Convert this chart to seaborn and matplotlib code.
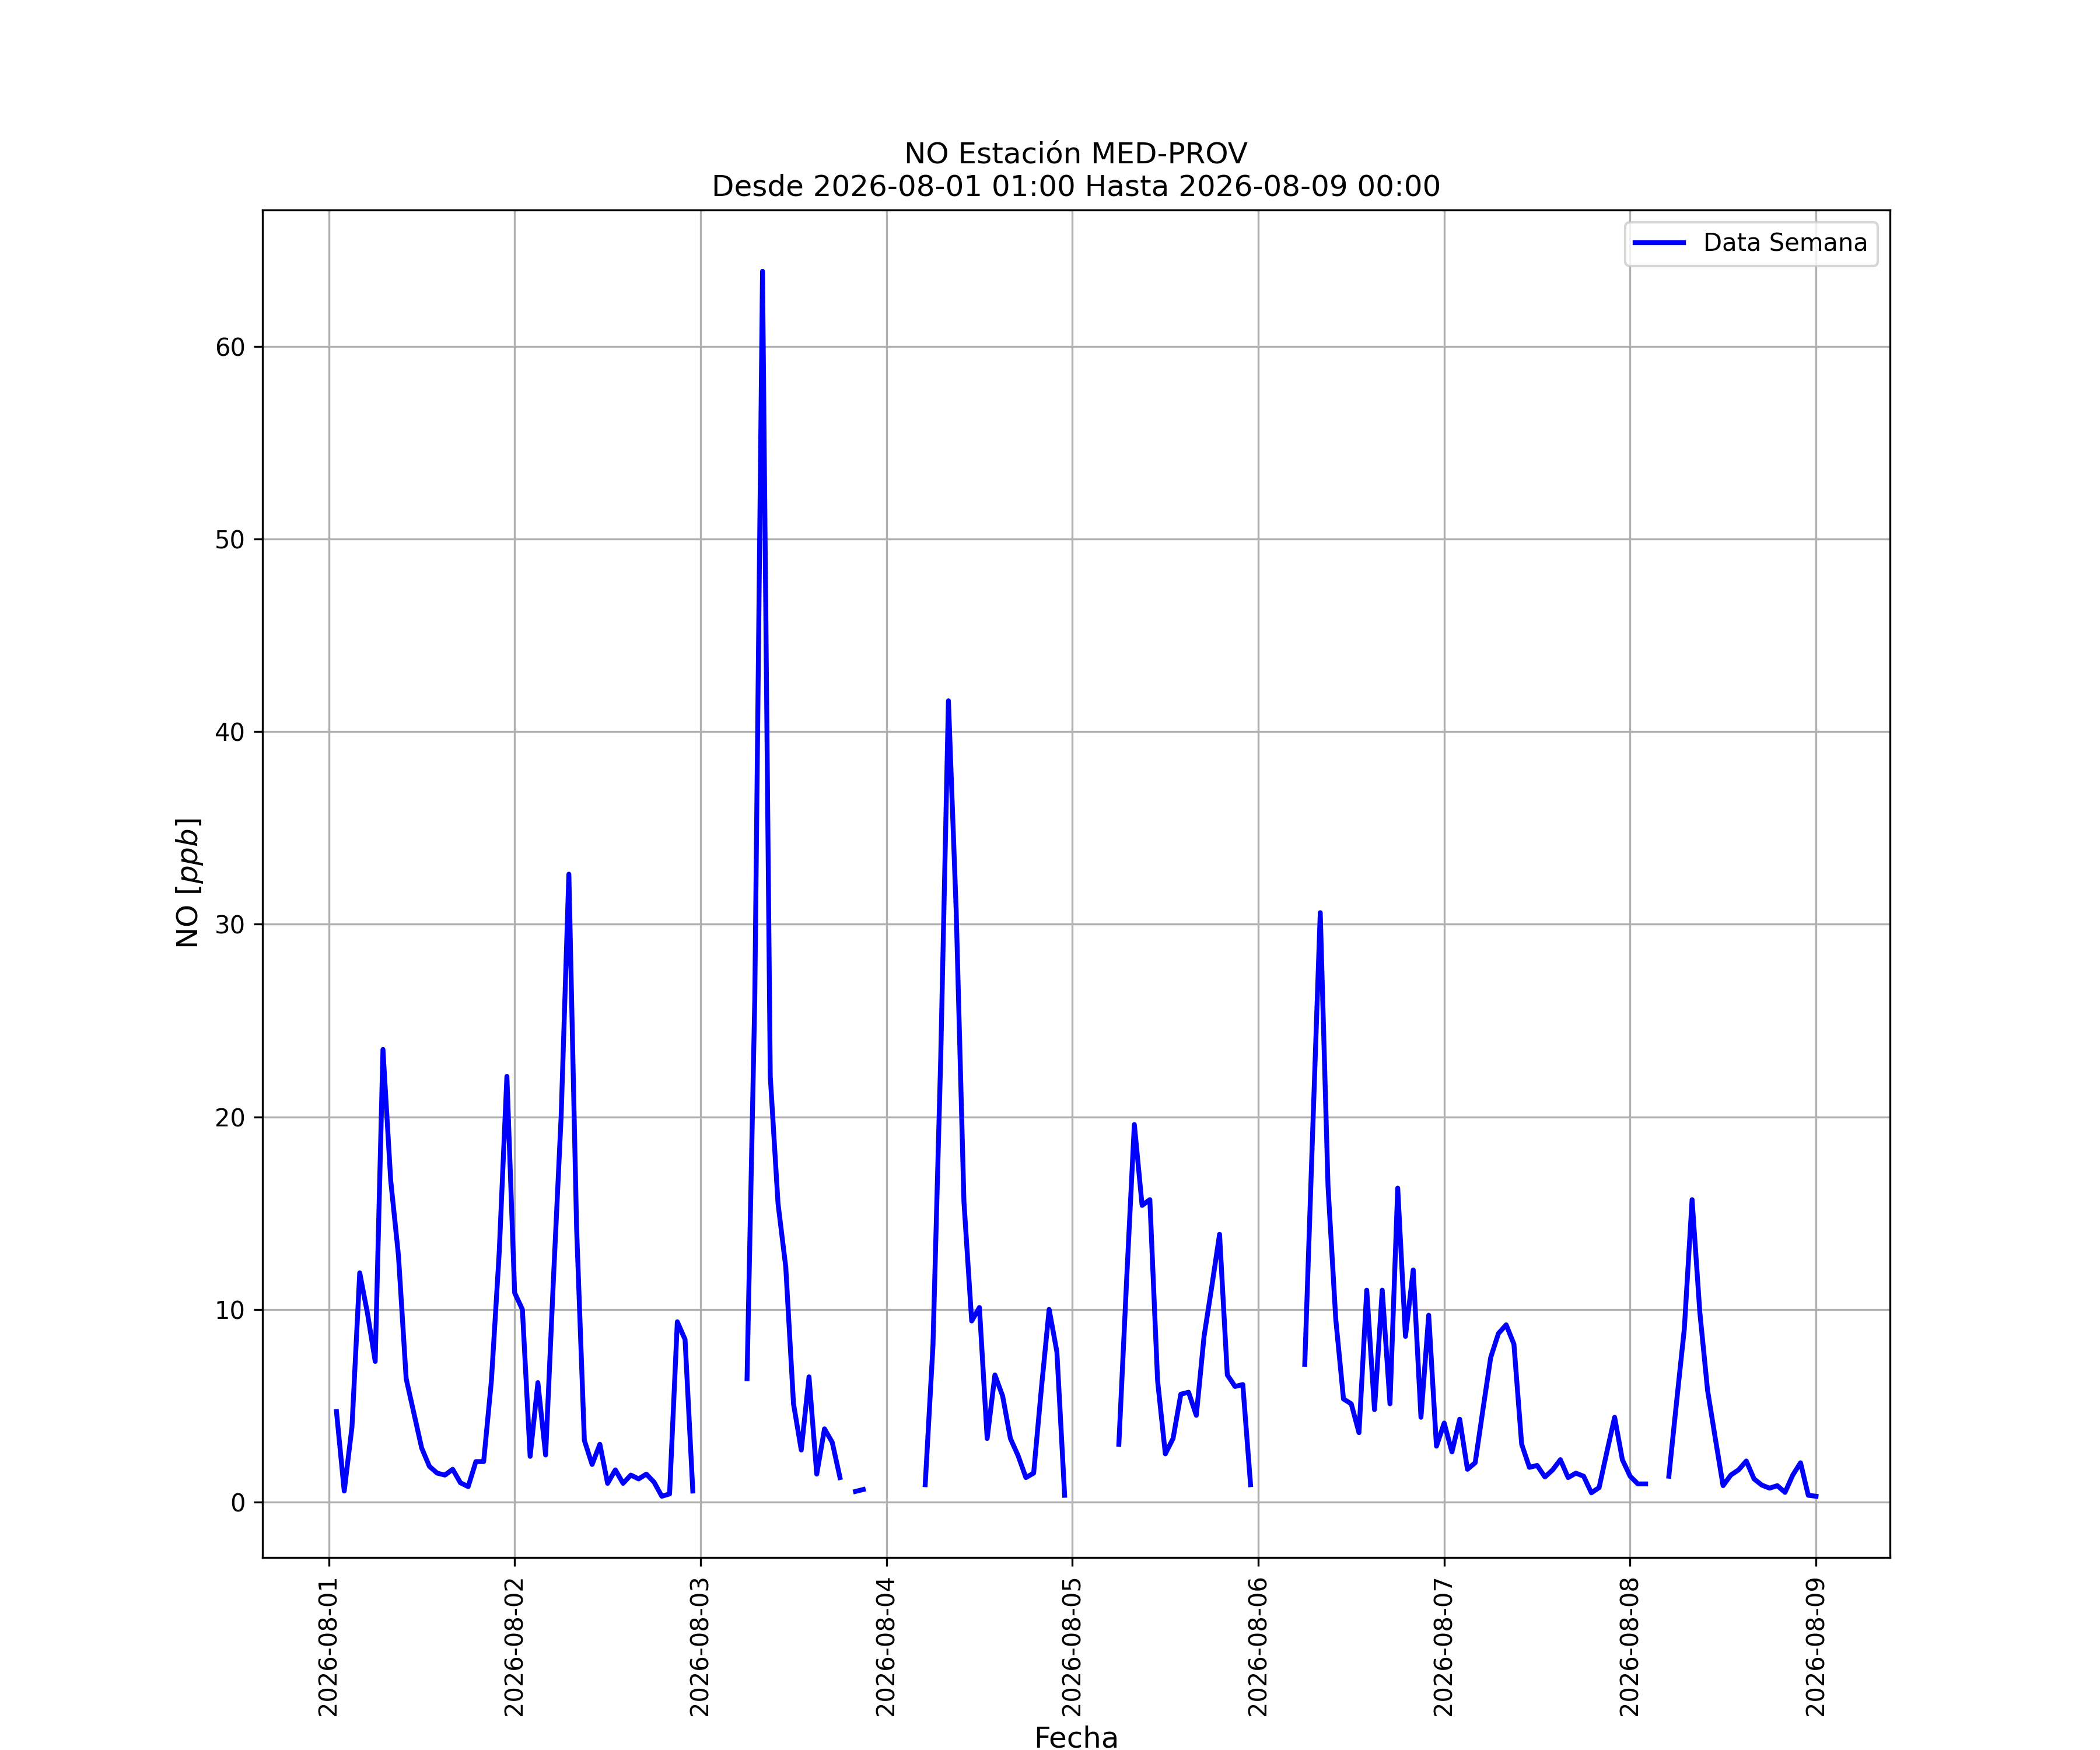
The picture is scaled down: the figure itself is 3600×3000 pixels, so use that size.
import matplotlib
matplotlib.use("Agg")
import matplotlib.pyplot as plt
import matplotlib.dates as mdates
import seaborn as sns
import pandas as pd
import numpy as np

nan = np.nan

# Valores horarios de NO [ppb] (NaN = sin dato)
dia_01 = [4.7, 0.57, 3.9, 11.9, 9.8, 7.3, 23.5, 16.7, 12.8, 6.4, 4.6, 2.8,
          1.85, 1.5, 1.4, 1.7, 1.0, 0.8, 2.1, 2.1, 6.3, 12.9, 22.1]  # 01:00 - 23:00
dia_02 = [10.86, 10.0, 2.37, 6.2, 2.44, 11.5, 20.0, 32.6, 14.2, 3.2, 1.95, 3.0,
          0.97, 1.67, 0.97, 1.4, 1.2, 1.45, 1.03, 0.3, 0.42, 9.36, 8.44, 0.57]
dia_03 = [nan, nan, nan, nan, nan, nan, 6.4, 26.1, 63.9, 22.1, 15.5, 12.2,
          5.1, 2.7, 6.5, 1.45, 3.8, 3.1, 1.27, nan, 0.55, 0.65, nan, nan]
dia_04 = [nan, nan, nan, nan, nan, 0.9, 8.1, 23.0, 41.6, 30.7, 15.6, 9.4,
          10.1, 3.3, 6.6, 5.5, 3.3, 2.4, 1.27, 1.5, 5.9, 10.0, 7.8, 0.35]
dia_05 = [nan, nan, nan, nan, nan, nan, 3.0, 11.5, 19.6, 15.4, 15.7, 6.3,
          2.5, 3.3, 5.6, 5.7, 4.5, 8.6, 11.2, 13.9, 6.6, 6.0, 6.1, 0.9]
dia_06 = [nan, nan, nan, nan, nan, nan, 7.15, 19.0, 30.6, 16.4, 9.5, 5.35,
          5.1, 3.6, 11.0, 4.8, 11.0, 5.1, 16.3, 8.6, 12.05, 4.4, 9.7, 2.9]
dia_07 = [4.1, 2.6, 4.3, 1.7, 2.04, 4.8, 7.5, 8.75, 9.2, 8.2, 3.0, 1.8,
          1.9, 1.3, 1.67, 2.2, 1.27, 1.5, 1.34, 0.48, 0.75, 2.6, 4.4, 2.2]
dia_08 = [1.34, 0.94, 0.94, nan, nan, 1.34, 5.2, 9.0, 15.7, 9.85, 5.8, 3.3,
          0.85, 1.4, 1.67, 2.13, 1.2, 0.88, 0.72, 0.85, 0.5, 1.4, 2.04, 0.35]
dia_09 = [0.3]  # 00:00

inicio = "2026-08-01 01:00"
fin = "2026-08-09 00:00"

valores = dia_01 + dia_02 + dia_03 + dia_04 + dia_05 + dia_06 + dia_07 + dia_08 + dia_09
fechas = pd.date_range(inicio, fin, freq="h")

df = pd.DataFrame({"Fecha": fechas, "NO": valores})
# cada tramo sin huecos se dibuja como una unidad para que se vean los cortes
df["tramo"] = df["NO"].isna().cumsum()
df = df.dropna()

plt.figure(figsize=(12, 10))
ax = sns.lineplot(x="Fecha", y="NO", data=df, units="tramo", estimator=None,
                  color="blue", linewidth=2)
plt.title(f"NO Estación MED-PROV\nDesde {inicio} Hasta {fin}", fontsize=12)
plt.xlabel("Fecha", fontsize=12)
plt.ylabel("NO [$ppb$]", fontsize=12)
ax.xaxis.set_major_locator(mdates.DayLocator())
ax.xaxis.set_major_formatter(mdates.DateFormatter("%Y-%m-%d"))
plt.xticks(rotation=90)
plt.grid(True)
plt.legend(handles=[ax.lines[0]], labels=["Data Semana"], loc="upper right")
plt.savefig("out.png", dpi=300)
